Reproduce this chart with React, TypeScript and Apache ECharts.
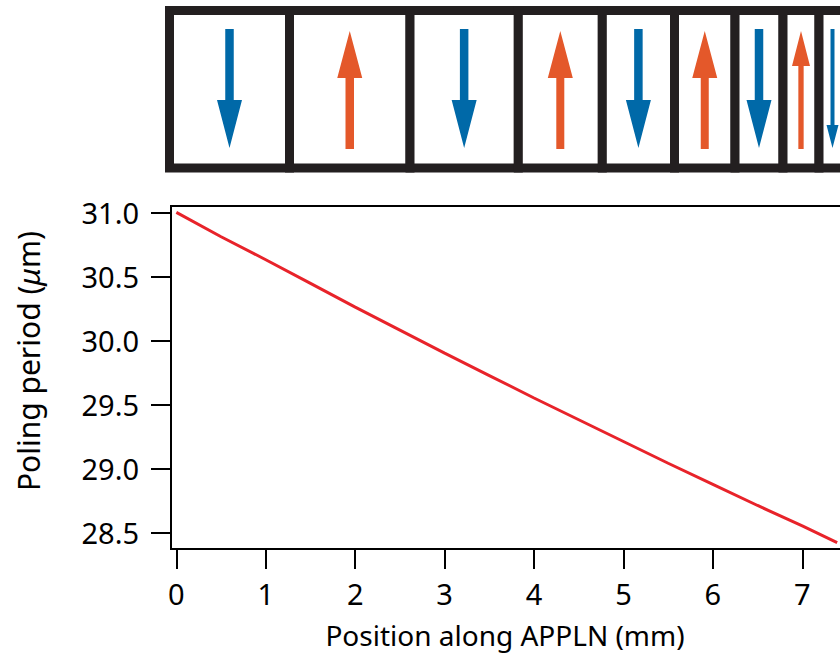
import React, { useEffect, useRef } from 'react';
import * as echarts from 'echarts';

// Chart data
const positionMm = [0, 0.5, 1, 1.5, 2, 2.5, 3, 3.5, 4, 4.5, 5, 5.5, 6, 6.5, 7, 7.39];
const polingPeriodUm = [31.0, 30.81, 30.63, 30.445, 30.26, 30.08, 29.9, 29.725, 29.55, 29.38, 29.21, 29.04, 28.875, 28.71, 28.55, 28.42];
const xTickValues = [0, 1, 2, 3, 4, 5, 6, 7];
const yTickValues = [28.5, 29.0, 29.5, 30.0, 30.5, 31.0];

// Domain illustration (top strip)
const domainDirections = ['down', 'up', 'down', 'up', 'down', 'up', 'down', 'up', 'down'];
const domainBounds = [169.5, 289.5, 410, 518.3, 602.3, 674.5, 735, 783, 819, 846];
const arrowHeadWidths = [25, 25, 25, 25, 25, 25, 25, 18, 12];
const arrowShaftWidths = [8.5, 8.5, 8.5, 8, 8.5, 8, 8.5, 5.3, 4];
const arrowHeadLengths = [48, 47, 48, 47, 48, 47, 48, 35, 23];

const FONT = '"Noto Sans", "DejaVu Sans", sans-serif';
const BLUE = '#0069A8';
const ORANGE = '#E4582A';
const FRAME = '#231F20';

function buildIllustration(): any[] {
  const els: any[] = [];
  const top = 10.5;
  const bottom = 168;
  for (let i = 0; i < domainDirections.length; i++) {
    const x0 = domainBounds[i];
    const x1 = domainBounds[i + 1];
    els.push({
      type: 'rect',
      shape: { x: x0, y: top, width: x1 - x0, height: bottom - top },
      style: { fill: '#fff', stroke: FRAME, lineWidth: 9 },
      z: 1,
    });
  }
  for (let i = 0; i < domainDirections.length; i++) {
    const cx = (domainBounds[i] + domainBounds[i + 1]) / 2;
    const hw = arrowHeadWidths[i] / 2;
    const sw = arrowShaftWidths[i] / 2;
    const hl = arrowHeadLengths[i];
    let pts: number[][];
    if (domainDirections[i] === 'up') {
      const yT = 31, yB = 149, yH = yT + hl;
      pts = [[cx, yT], [cx + hw, yH], [cx + sw, yH], [cx + sw, yB], [cx - sw, yB], [cx - sw, yH], [cx - hw, yH]];
    } else {
      const yT = 29, yB = 148, yH = yB - hl;
      pts = [[cx - sw, yT], [cx + sw, yT], [cx + sw, yH], [cx + hw, yH], [cx, yB], [cx - hw, yH], [cx - sw, yH]];
    }
    els.push({
      type: 'polygon',
      shape: { points: pts },
      style: { fill: domainDirections[i] === 'up' ? ORANGE : BLUE },
      z: 2,
    });
  }
  return els;
}

export default function App() {
  const ref = useRef<HTMLDivElement>(null);
  useEffect(() => {
    if (!ref.current) return;
    const chart = echarts.init(ref.current, undefined, { renderer: 'svg' });
    const lineData = positionMm.map((x, i) => [x, polingPeriodUm[i]]);
    chart.setOption({
      animation: false,
      backgroundColor: '#fff',
      grid: {
        left: 171,
        top: 206,
        bottom: 106,
        right: -7,
        outerBoundsMode: 'none',
        containLabel: false,
        show: true,
        borderColor: '#000',
        borderWidth: 2,
        backgroundColor: 'transparent',
      },
      xAxis: {
        type: 'value',
        min: -0.06,
        max: 7.5,
        axisLine: { show: true, onZero: false, lineStyle: { color: '#000', width: 2 } },
        axisTick: { show: true, inside: false, length: 20, lineStyle: { color: '#000', width: 2 }, customValues: xTickValues },
        axisLabel: {
          customValues: xTickValues,
          margin: 30,
          color: '#000',
          fontSize: 29,
          fontFamily: FONT,
          formatter: (v: number) => String(v),
        },
        splitLine: { show: false },
      },
      yAxis: {
        type: 'value',
        min: 28.37,
        max: 31.05,
        axisLine: { show: true, onZero: false, lineStyle: { color: '#000', width: 2 } },
        axisTick: { show: true, inside: false, length: 20, lineStyle: { color: '#000', width: 2 }, customValues: yTickValues },
        axisLabel: {
          customValues: yTickValues,
          margin: 32,
          color: '#000',
          fontSize: 29,
          fontFamily: FONT,
          formatter: (v: number) => v.toFixed(1),
        },
        splitLine: { show: false },
      },
      series: [
        {
          type: 'line',
          data: lineData,
          smooth: false,
          showSymbol: false,
          symbol: 'none',
          lineStyle: { color: '#E8232A', width: 3 },
          z: 5,
        },
      ],
      graphic: [
        ...buildIllustration(),
        {
          type: 'text',
          x: 505,
          y: 635,
          style: {
            text: 'Position along APPLN (mm)',
            fill: '#000',
            fontSize: 28,
            fontFamily: FONT,
            textAlign: 'center',
            textVerticalAlign: 'middle',
          },
        },
        {
          type: 'text',
          x: 28,
          y: 361,
          rotation: Math.PI / 2,
          style: {
            text: '{a|Poling period (}{b|μ}{a|m)}',
            fill: '#000',
            fontSize: 30,
            fontFamily: FONT,
            textAlign: 'center',
            textVerticalAlign: 'middle',
            rich: {
              a: { fontSize: 30, fontFamily: FONT, fill: '#000' },
              b: { fontSize: 30, fontFamily: FONT, fontStyle: 'italic', fill: '#000' },
            },
          },
        },
      ],
    });
    return () => chart.dispose();
  }, []);
  return (
    <div
      ref={ref}
      style={{ position: 'absolute', left: 0, top: 0, width: 840, height: 655, background: '#fff' }}
    />
  );
}
